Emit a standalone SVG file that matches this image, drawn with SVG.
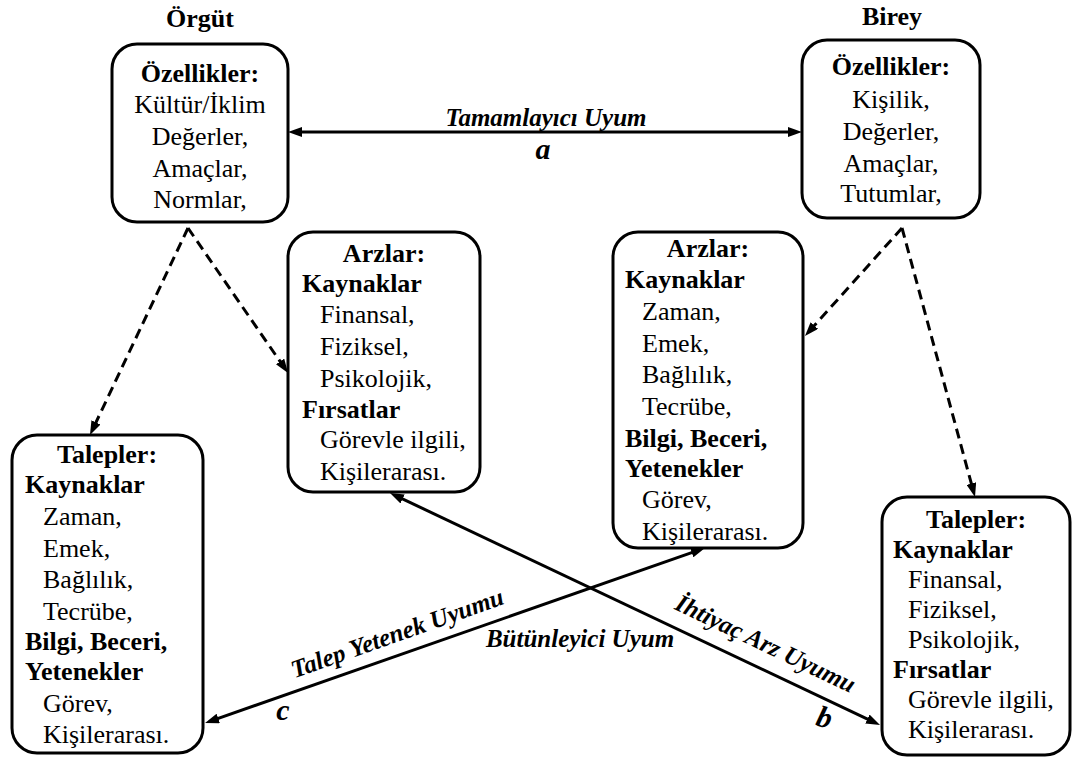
<svg xmlns="http://www.w3.org/2000/svg" width="1075" height="760" viewBox="0 0 1075 760">
<style>
.box{fill:#fff;stroke:#000;stroke-width:3}
.t{font-family:"Liberation Serif","Times New Roman",serif;font-size:26px;fill:#000}
.b{font-weight:bold}
.c{text-anchor:middle}
.lbl{font-family:"Liberation Serif","Times New Roman",serif;font-size:25px;font-weight:bold;font-style:italic;fill:#000}
.let{font-family:"Liberation Serif","Times New Roman",serif;font-size:30px;font-weight:bold;font-style:italic;fill:#000}
.ln{fill:none;stroke:#000;stroke-width:3}
.dash{stroke-dasharray:10 6}
</style>
<defs>
<marker id="ah" markerUnits="userSpaceOnUse" markerWidth="14" markerHeight="10" refX="6" refY="5" orient="auto-start-reverse">
<path d="M0,0 L14,5 L0,10 z" fill="#000"/>
</marker>
</defs>
<rect width="1075" height="760" fill="#fff"/>

<g id="connectors">
<line class="ln" x1="296" y1="132" x2="794" y2="132" marker-start="url(#ah)" marker-end="url(#ah)"/>
<line class="ln" x1="697.4" y1="550.6" x2="212.6" y2="720.4" marker-start="url(#ah)" marker-end="url(#ah)"/>
<line class="ln" x1="397.2" y1="496.4" x2="872.8" y2="721.6" marker-start="url(#ah)" marker-end="url(#ah)"/>
<line class="ln dash" x1="188" y1="228" x2="93.4" y2="427.8" marker-end="url(#ah)"/>
<line class="ln dash" x1="188" y1="228" x2="283.5" y2="366.4" marker-end="url(#ah)"/>
<line class="ln dash" x1="902" y1="228" x2="810.3" y2="330" marker-end="url(#ah)"/>
<line class="ln dash" x1="902" y1="228" x2="972.9" y2="489.3" marker-end="url(#ah)"/>
<g id="connector-labels">
<text class="lbl c" x="546" y="126">Tamamlayıcı Uyum</text>
<text class="let c" x="543" y="159">a</text>
<text class="lbl c" transform="rotate(-19.5 400 641)" x="400" y="641">Talep Yetenek Uyumu</text>
<text class="lbl c" x="580" y="647">Bütünleyici Uyum</text>
<text class="lbl c" transform="rotate(25.5 762 651)" x="762" y="651">İhtiyaç Arz Uyumu</text>
<text class="let c" x="283" y="720">c</text>
<text class="let c" transform="rotate(15 822 727)" x="822" y="727">b</text>
</g>
</g>

<g id="titles">
<text class="t b c" x="200" y="27">Örgüt</text>
<text class="t b c" x="892" y="25">Birey</text>
</g>

<g id="org-ozellikler">
<rect class="box" x="112" y="44" width="176" height="178" rx="25"/>
<text class="t b c" x="200" y="82">Özellikler:</text>
<text class="t c" x="200" y="113">Kültür/İklim</text>
<text class="t c" x="200" y="145">Değerler,</text>
<text class="t c" x="200" y="177">Amaçlar,</text>
<text class="t c" x="200" y="208">Normlar,</text>
</g>

<g id="birey-ozellikler">
<rect class="box" x="802" y="40" width="178" height="178" rx="25"/>
<text class="t b c" x="891" y="75">Özellikler:</text>
<text class="t c" x="891" y="108">Kişilik,</text>
<text class="t c" x="891" y="140">Değerler,</text>
<text class="t c" x="891" y="172">Amaçlar,</text>
<text class="t c" x="891" y="202">Tutumlar,</text>
</g>

<g id="org-arzlar">
<rect class="box" x="288" y="232" width="192" height="260" rx="25"/>
<text class="t b c" x="384" y="262">Arzlar:</text>
<text class="t b" x="302" y="292">Kaynaklar</text>
<text class="t" x="320" y="323">Finansal,</text>
<text class="t" x="320" y="355">Fiziksel,</text>
<text class="t" x="320" y="387">Psikolojik,</text>
<text class="t b" x="302" y="418">Fırsatlar</text>
<text class="t" x="320" y="448">Görevle ilgili,</text>
<text class="t" x="320" y="480">Kişilerarası.</text>
</g>

<g id="birey-arzlar">
<rect class="box" x="613" y="232" width="190" height="316" rx="25"/>
<text class="t b c" x="708" y="257">Arzlar:</text>
<text class="t b" x="625" y="288">Kaynaklar</text>
<text class="t" x="642" y="320">Zaman,</text>
<text class="t" x="642" y="352">Emek,</text>
<text class="t" x="642" y="383">Bağlılık,</text>
<text class="t" x="642" y="415">Tecrübe,</text>
<text class="t b" x="625" y="447">Bilgi, Beceri,</text>
<text class="t b" x="625" y="477">Yetenekler</text>
<text class="t" x="642" y="508">Görev,</text>
<text class="t" x="642" y="540">Kişilerarası.</text>
</g>

<g id="org-talepler">
<rect class="box" x="12" y="435" width="191" height="318" rx="25"/>
<text class="t b c" x="107" y="463">Talepler:</text>
<text class="t b" x="25" y="493">Kaynaklar</text>
<text class="t" x="43" y="525">Zaman,</text>
<text class="t" x="43" y="557">Emek,</text>
<text class="t" x="43" y="588">Bağlılık,</text>
<text class="t" x="43" y="620">Tecrübe,</text>
<text class="t b" x="25" y="650">Bilgi, Beceri,</text>
<text class="t b" x="25" y="680">Yetenekler</text>
<text class="t" x="43" y="712">Görev,</text>
<text class="t" x="43" y="743">Kişilerarası.</text>
</g>

<g id="birey-talepler">
<rect class="box" x="882" y="497" width="188" height="258" rx="25"/>
<text class="t b c" x="976" y="528">Talepler:</text>
<text class="t b" x="893" y="558">Kaynaklar</text>
<text class="t" x="908" y="588">Finansal,</text>
<text class="t" x="908" y="618">Fiziksel,</text>
<text class="t" x="908" y="648">Psikolojik,</text>
<text class="t b" x="893" y="678">Fırsatlar</text>
<text class="t" x="908" y="708">Görevle ilgili,</text>
<text class="t" x="908" y="738">Kişilerarası.</text>
</g>
</svg>
